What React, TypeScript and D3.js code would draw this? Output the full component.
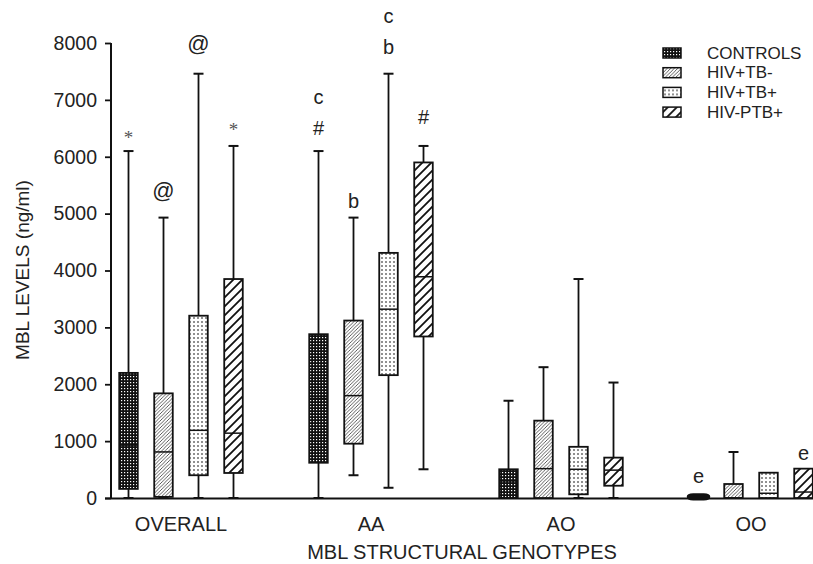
import React, { useEffect, useRef } from "react";
import * as d3 from "d3";

// categories
const groups = ["OVERALL", "AA", "AO", "OO"];
const series = ["CONTROLS", "HIV+TB-", "HIV+TB+", "HIV-PTB+"];
const yTicks = [0, 1000, 2000, 3000, 4000, 5000, 6000, 7000, 8000];

// box values per group: [min, q1, median, q3, max]
const controls = [[0, 160, 930, 2200, 6100], [0, 620, 1750, 2880, 6100], [0, 0, 300, 505, 1710], [0, 0, 0, 40, 40]];
const hivTbNeg = [[0, 20, 810, 1840, 4930], [400, 955, 1800, 3120, 4930], [0, 0, 516, 1360, 2300], [0, 0, 0, 246, 809]];
const hivTbPos = [[0, 400, 1190, 3205, 7460], [180, 2160, 3320, 4310, 7460], [0, 65, 505, 900, 3850], [0, 0, 83, 445, 445]];
const hivPtbPos = [[0, 440, 1140, 3850, 6190], [505, 2840, 3890, 5900, 6190], [0, 216, 490, 710, 2030], [0, 0, 105, 516, 516]];

// significance marks: group, series, text, level (ng/ml)
const markGroup = ["OVERALL", "OVERALL", "OVERALL", "OVERALL", "AA", "AA", "AA", "AA", "AA", "AA", "OO", "OO"];
const markSeries = ["CONTROLS", "HIV+TB-", "HIV+TB+", "HIV-PTB+", "CONTROLS", "CONTROLS", "HIV+TB-", "HIV+TB+", "HIV+TB+", "HIV-PTB+", "CONTROLS", "HIV-PTB+"];
const markText = ["*", "@", "@", "*", "#", "c", "b", "b", "c", "#", "e", "e"];
const markLevel = [6330, 5400, 8000, 6480, 6500, 7050, 5230, 7930, 8470, 6700, 390, 800];

const patternIds = ["p-ctrl", "p-neg", "p-pos", "p-ptb"];

export default function App() {
  const ref = useRef<SVGSVGElement>(null);

  useEffect(() => {
    const width = 813;
    const svg = d3.select(ref.current);
    svg.selectAll("*").remove();
    const font = "'Liberation Sans', Arial, sans-serif";

    // patterns
    const defs = svg.append("defs");
    const p0 = defs.append("pattern").attr("id", "p-ctrl").attr("patternUnits", "userSpaceOnUse")
      .attr("width", 3).attr("height", 3);
    p0.append("rect").attr("width", 3).attr("height", 3).attr("fill", "#111");
    p0.append("rect").attr("x", 1).attr("y", 1).attr("width", 1.2).attr("height", 1.2).attr("fill", "#fff");

    const p1 = defs.append("pattern").attr("id", "p-neg").attr("patternUnits", "userSpaceOnUse")
      .attr("width", 3.5).attr("height", 3.5);
    p1.append("rect").attr("width", 3.5).attr("height", 3.5).attr("fill", "#fff");
    p1.append("path").attr("d", "M-1,1 L1,-1 M0,3.5 L3.5,0 M2.5,4.5 L4.5,2.5")
      .attr("stroke", "#333").attr("stroke-width", 0.8);

    const p2 = defs.append("pattern").attr("id", "p-pos").attr("patternUnits", "userSpaceOnUse")
      .attr("width", 4).attr("height", 4);
    p2.append("rect").attr("width", 4).attr("height", 4).attr("fill", "#fff");
    p2.append("rect").attr("x", 1).attr("y", 1.5).attr("width", 2).attr("height", 1).attr("fill", "#222");

    const p3 = defs.append("pattern").attr("id", "p-ptb").attr("patternUnits", "userSpaceOnUse")
      .attr("width", 9).attr("height", 9);
    p3.append("rect").attr("width", 9).attr("height", 9).attr("fill", "#fff");
    p3.append("path").attr("d", "M-2,2 L2,-2 M0,9 L9,0 M7,11 L11,7")
      .attr("stroke", "#111").attr("stroke-width", 1.8);

    // scales
    const y = d3.scaleLinear().domain([0, 8000]).range([498, 43]);
    const xg = d3.scalePoint().domain(groups).range([181, 751]);
    const xs = d3.scaleBand().domain(series).range([-70, 70]).paddingInner(0.47).paddingOuter(0.235);
    const bw = xs.bandwidth();

    // y axis
    const yAxis = svg.append("g").attr("transform", "translate(111,0)")
      .call(d3.axisLeft(y).tickValues(yTicks).tickSize(6).tickPadding(8).tickFormat(d3.format("d")));
    yAxis.select(".domain").attr("stroke", "#111").attr("stroke-width", 2).attr("d", "M0,43V499");
    yAxis.selectAll(".tick line").attr("stroke", "#111").attr("stroke-width", 1.8);
    yAxis.selectAll(".tick text").attr("font-family", font).attr("font-size", 19.5).attr("fill", "#222");

    // x axis line and labels
    svg.append("line").attr("x1", 105).attr("x2", width).attr("y1", 498.5).attr("y2", 498.5)
      .attr("stroke", "#111").attr("stroke-width", 2);
    svg.selectAll(".glabel").data(groups).enter().append("text")
      .attr("x", d => xg(d)!).attr("y", 531)
      .attr("text-anchor", "middle").attr("font-family", font).attr("font-size", 20).attr("fill", "#222")
      .text(d => d);

    // axis titles
    svg.append("text").attr("x", 462).attr("y", 559).attr("text-anchor", "middle")
      .attr("font-family", font).attr("font-size", 20).attr("fill", "#222")
      .text("MBL STRUCTURAL GENOTYPES");
    svg.append("text").attr("transform", "translate(29,270) rotate(-90)").attr("text-anchor", "middle")
      .attr("font-family", font).attr("font-size", 19).attr("fill", "#222")
      .text("MBL LEVELS (ng/ml)");

    // boxes
    const allSeries = [controls, hivTbNeg, hivTbPos, hivPtbPos];
    const plot = svg.append("g");
    allSeries.forEach((vals, si) => {
      vals.forEach((v, gi) => {
        const [mn, q1, md, q3, mx] = v;
        const cx = xg(groups[gi])! + xs(series[si])! + bw / 2;
        const x0 = cx - bw / 2;
        const g = plot.append("g");
        if (mx > q3) {
          g.append("line").attr("x1", cx).attr("x2", cx).attr("y1", y(mx)).attr("y2", y(q3))
            .attr("stroke", "#111").attr("stroke-width", 1.8);
          g.append("line").attr("x1", cx - 5).attr("x2", cx + 5).attr("y1", y(mx)).attr("y2", y(mx))
            .attr("stroke", "#111").attr("stroke-width", 2);
        }
        if (q1 > mn) {
          g.append("line").attr("x1", cx).attr("x2", cx).attr("y1", y(q1)).attr("y2", y(mn))
            .attr("stroke", "#111").attr("stroke-width", 1.8);
          g.append("line").attr("x1", cx - 5).attr("x2", cx + 5).attr("y1", y(mn)).attr("y2", y(mn))
            .attr("stroke", "#111").attr("stroke-width", 2);
        }
        if (q3 - q1 < 100) {
          // collapsed box
          g.append("rect").attr("x", x0).attr("y", y(q3)).attr("width", bw).attr("height", y(q1) - y(q3))
            .attr("rx", 4).attr("fill", "#111").attr("stroke", "#111").attr("stroke-width", 5);
          return;
        }
        g.append("rect").attr("x", x0).attr("y", y(q3)).attr("width", bw).attr("height", y(q1) - y(q3))
          .attr("fill", `url(#${patternIds[si]})`).attr("stroke", "#111").attr("stroke-width", 1.8);
        g.append("line").attr("x1", x0).attr("x2", x0 + bw).attr("y1", y(md)).attr("y2", y(md))
          .attr("stroke", "#111").attr("stroke-width", 1.5);
      });
    });

    // significance marks
    svg.selectAll(".mark").data(markText).enter().append("text")
      .attr("x", (d, i) => xg(markGroup[i])! + xs(markSeries[i])! + bw / 2)
      .attr("y", (d, i) => y(markLevel[i]))
      .attr("text-anchor", "middle").attr("dominant-baseline", "central")
      .attr("font-family", d => d === "*" ? "'Liberation Serif', serif" : font)
      .attr("font-size", d => d === "*" ? 19 : d === "@" ? 22 : 20)
      .attr("fill", d => d === "*" ? "#555" : "#222")
      .text(d => d);

    // legend
    const legend = svg.append("g").attr("transform", "translate(663,53)");
    series.forEach((s, i) => {
      const row = legend.append("g").attr("transform", `translate(0,${i * 19.7})`);
      row.append("rect").attr("x", 0).attr("y", -5).attr("width", 18).attr("height", 10)
        .attr("fill", `url(#${patternIds[i]})`).attr("stroke", "#111").attr("stroke-width", 1.5);
      row.append("text").attr("x", 44).attr("y", 0).attr("dominant-baseline", "central")
        .attr("font-family", font).attr("font-size", 17).attr("fill", "#222").text(s);
    });
  }, []);

  return (
    <svg ref={ref} width={813} height={564}
      style={{ position: "absolute", left: 0, top: 0, background: "#fff" }} />
  );
}
